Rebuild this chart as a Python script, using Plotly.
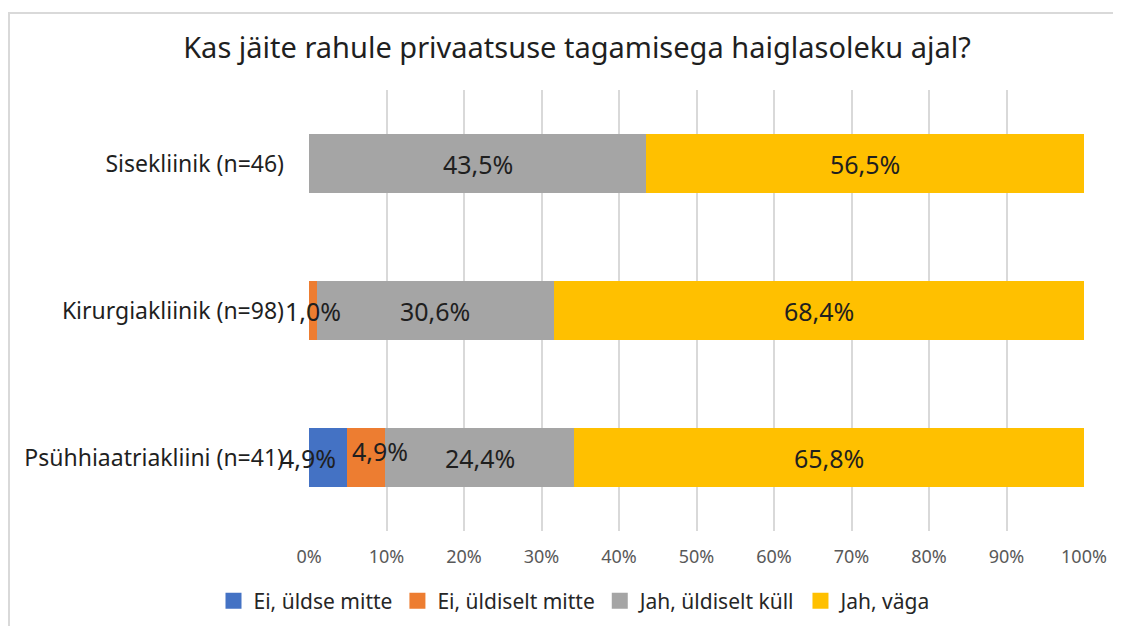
import plotly.graph_objects as go

categories = ["Sisekliinik (n=46)", "Kirurgiakliinik (n=98)", "Psühhiaatriakliini (n=41)"]
series_names = ["Ei, üldse mitte", "Ei, üldiselt mitte", "Jah, üldiselt küll", "Jah, väga"]
ei_uldse = [0.0, 0.0, 4.9]
ei_uldiselt = [0.0, 1.0, 4.9]
jah_uldiselt = [43.5, 30.6, 24.4]
jah_vaga = [56.5, 68.4, 65.8]
colors = ["#4472C4", "#ED7D31", "#A5A5A5", "#FFC000"]
tick_vals = [0, 10, 20, 30, 40, 50, 60, 70, 80, 90, 100]
tick_text = [f"{v}%" for v in tick_vals]

series = [ei_uldse, ei_uldiselt, jah_uldiselt, jah_vaga]
# label nudges (px) for crowded labels: (series index, category index) -> (xshift, yshift)
nudges = {(0, 2): (-20, 0), (1, 2): (14, 7)}

FONT = "Noto Sans"
W, H = 1113, 618          # page body has an 8px margin
L, R, T, B = 301, 37, 81.5, 92.5
PW, PH = W - L - R, H - T - B

fig = go.Figure()
for name, vals, col in zip(series_names, series, colors):
    fig.add_trace(go.Bar(
        y=categories, x=vals, name=name, orientation="h",
        marker=dict(color=col, line=dict(width=0)),
        hoverinfo="x+name", legendgroup=name, showlegend=False,
    ))
# legend entries with larger square keys
for name, col in zip(series_names, colors):
    fig.add_trace(go.Scatter(
        x=[None], y=[None], mode="markers", name=name, legendgroup=name,
        marker=dict(symbol="square", size=16, color=col), hoverinfo="skip",
    ))

annotations = []
for si, vals in enumerate(series):
    for ci, cat in enumerate(categories):
        v = vals[ci]
        if v <= 0:
            continue
        start = sum(series[k][ci] for k in range(si))
        xs, ys = nudges.get((si, ci), (0, 0))
        annotations.append(dict(
            x=start + v / 2, y=cat, xref="x", yref="y",
            text=f"{v:.1f}%".replace(".", ","), showarrow=False,
            xshift=xs, yshift=ys,
            font=dict(family=FONT, size=25, color="#1f1f1f"),
        ))

fig.update_layout(
    barmode="stack",
    bargap=0.6,
    width=W, height=H,
    margin=dict(l=L, r=R, t=T, b=B),
    paper_bgcolor="white", plot_bgcolor="white",
    title=dict(text="Kas jäite rahule privaatsuse tagamisega haiglasoleku ajal?",
               x=569 / W, xref="container", xanchor="center",
               y=1 - 40 / H, yref="container", yanchor="middle",
               font=dict(family=FONT, size=29, color="#1f1f1f")),
    xaxis=dict(range=[0, 100], tickvals=tick_vals, ticktext=tick_text,
               showgrid=True, gridcolor="#D9D9D9", gridwidth=2, zeroline=False,
               showline=False, ticks="", ticklabelstandoff=13,
               tickfont=dict(family=FONT, size=18, color="#595959"), fixedrange=True),
    yaxis=dict(categoryorder="array", categoryarray=categories[::-1],
               showgrid=False, zeroline=False, showline=False, ticks="",
               ticklabelstandoff=24,
               tickfont=dict(family=FONT, size=23, color="#1f1f1f"), fixedrange=True),
    legend=dict(orientation="h", x=567 / W, xref="container", xanchor="center",
                y=1 - 593 / H, yref="container", yanchor="middle",
                traceorder="normal",
                font=dict(family=FONT, size=21, color="#262626")),
    annotations=annotations,
    showlegend=True,
    shapes=[
        dict(type="line", xref="paper", yref="paper",
             x0=(0 - L) / PW, x1=(W + 20 - L) / PW,
             y0=1 + (T - 4) / PH, y1=1 + (T - 4) / PH,
             line=dict(color="#D9D9D9", width=2)),
        dict(type="line", xref="paper", yref="paper",
             x0=(1 - L) / PW, x1=(1 - L) / PW,
             y0=1 + (T - 4) / PH, y1=-(B + 20) / PH,
             line=dict(color="#D9D9D9", width=2)),
    ],
)

fig.write_html("out.html")
